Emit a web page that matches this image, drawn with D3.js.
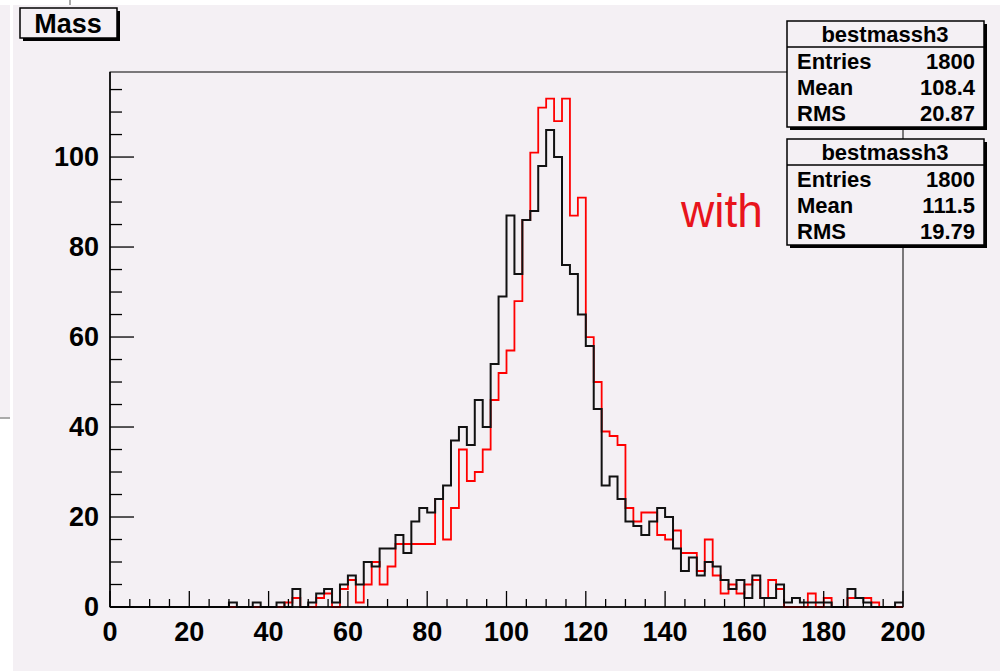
<!DOCTYPE html>
<html>
<head>
<meta charset="utf-8">
<script src="https://cdn.jsdelivr.net/npm/d3@7"></script>
<style>
  body { margin: 0; background: #fff; }
  svg { display: block; }
  text { font-family: "Liberation Sans", Arial, sans-serif; }
</style>
</head>
<body>
<script>
// histogram bestmassh3, 100 bins of width 2 from 0 to 200
var binWidth = 2;
var massBlack = [
  0, 0, 0, 0, 0, 0, 0, 0, 0, 0,
  0, 0, 0, 0, 0, 1, 0, 0, 1, 0,
  0, 1, 0, 4, 0, 1, 3, 4, 1, 5,
  7, 5, 10, 9, 13, 13, 16, 12, 19, 22,
  21, 24, 27, 37, 40, 36, 46, 40, 54, 69,
  87, 74, 86, 88, 98, 106, 100, 76, 74, 65,
  58, 44, 27, 29, 24, 19, 18, 16, 19, 22,
  20, 13, 8, 11, 7, 10, 9, 6, 4, 6,
  2, 7, 2, 2, 5, 1, 2, 1, 1, 1,
  1, 0, 0, 4, 2, 1, 0, 0, 0, 1
];
var massRed = [
  0, 0, 0, 0, 0, 0, 0, 0, 0, 0,
  0, 0, 0, 0, 0, 0, 0, 0, 0, 0,
  0, 0, 1, 2, 0, 0, 2, 3, 0, 4,
  6, 1, 5, 10, 5, 9, 14, 14, 14, 14,
  14, 24, 15, 22, 35, 28, 30, 35, 46, 52,
  57, 68, 86, 101, 111, 113, 108, 113, 87, 91,
  60, 50, 39, 38, 36, 22, 19, 21, 21, 16,
  15, 17, 12, 12, 8, 15, 7, 3, 5, 3,
  5, 6, 2, 6, 4, 0, 0, 0, 3, 0,
  2, 0, 0, 2, 2, 2, 1, 0, 0, 0
];
var xTicks = [0, 20, 40, 60, 80, 100, 120, 140, 160, 180, 200];
var yTicks = [0, 20, 40, 60, 80, 100];
var statsNames = ["Entries", "Mean", "RMS"];
var statsBlack = ["1800", "108.4", "20.87"];
var statsRed = ["1800", "111.5", "19.79"];

var W = 1000, H = 671;
var bg = '#f4f0f4';
var svg = d3.select('body').append('svg')
  .attr('width', W)
  .attr('height', H);

// canvas
svg.append('rect').attr('x', 13).attr('y', 5).attr('width', W - 13).attr('height', H - 5).attr('fill', bg);
svg.append('rect').attr('x', 0).attr('y', 5).attr('width', 10).attr('height', 412).attr('fill', bg);
svg.append('line').attr('x1', 0).attr('x2', 10).attr('y1', 418).attr('y2', 418)
  .attr('stroke', '#aaa').attr('stroke-width', 2);
svg.append('line').attr('x1', 70).attr('x2', 70).attr('y1', 0).attr('y2', 5)
  .attr('stroke', '#aaa').attr('stroke-width', 2);

var x = d3.scaleLinear().domain([0, 200]).range([110, 903]);
var y = d3.scaleLinear().domain([0, 118.9]).range([607, 72]);

// frame
svg.append('rect')
  .attr('x', x(0)).attr('y', y(118.9))
  .attr('width', x(200) - x(0)).attr('height', y(0) - y(118.9))
  .attr('fill', bg).attr('stroke', '#000').attr('stroke-width', 1);

// histograms
var step = d3.line()
  .x(function(d) { return x(d[0]); })
  .y(function(d) { return y(d[1]); })
  .curve(d3.curveStepAfter);
function pts(vals) {
  var p = vals.map(function(v, i) { return [i * binWidth, v]; });
  p.push([vals.length * binWidth, vals[vals.length - 1]]);
  return p;
}
svg.append('path').datum(pts(massRed)).attr('d', step)
  .attr('fill', 'none').attr('stroke', '#ff0000').attr('stroke-width', 1.8);
svg.append('path').datum(pts(massBlack)).attr('d', step)
  .attr('fill', 'none').attr('stroke', '#111').attr('stroke-width', 2);

// x axis
var ax = svg.append('g');
ax.append('line').attr('x1', x(0)).attr('x2', x(200)).attr('y1', y(0)).attr('y2', y(0))
  .attr('stroke', '#000').attr('stroke-width', 1.5);
d3.range(0, 201, 5).forEach(function(v) {
  var major = v % 20 == 0;
  ax.append('line')
    .attr('x1', x(v)).attr('x2', x(v))
    .attr('y1', y(0)).attr('y2', y(0) - (major ? 16 : 8))
    .attr('stroke', '#000').attr('stroke-width', 1.3);
});
ax.selectAll('text.xl').data(xTicks).enter().append('text')
  .attr('class', 'xl')
  .attr('x', function(d) { return x(d); })
  .attr('y', 641)
  .attr('text-anchor', 'middle')
  .attr('font-size', 27).attr('font-weight', 'bold')
  .text(function(d) { return d; });

// y axis
var ay = svg.append('g');
ay.append('line').attr('x1', x(0)).attr('x2', x(0)).attr('y1', y(0)).attr('y2', y(118.9))
  .attr('stroke', '#000').attr('stroke-width', 1.5);
d3.range(0, 116, 5).forEach(function(v) {
  var major = v % 20 == 0;
  ay.append('line')
    .attr('x1', x(0)).attr('x2', x(0) + (major ? 24 : 12))
    .attr('y1', y(v)).attr('y2', y(v))
    .attr('stroke', '#000').attr('stroke-width', 1.3);
});
ay.selectAll('text.yl').data(yTicks).enter().append('text')
  .attr('class', 'yl')
  .attr('x', 99)
  .attr('y', function(d) { return y(d) + 9; })
  .attr('text-anchor', 'end')
  .attr('font-size', 27).attr('font-weight', 'bold')
  .text(function(d) { return d; });

// title box
function shadowBox(x0, y0, w, h) {
  svg.append('rect').attr('x', x0 + 3).attr('y', y0 + 3).attr('width', w).attr('height', h).attr('fill', '#000');
  svg.append('rect').attr('x', x0).attr('y', y0).attr('width', w).attr('height', h)
    .attr('fill', bg).attr('stroke', '#000').attr('stroke-width', 1.5);
}
shadowBox(20, 8, 97, 30);
svg.append('text').attr('x', 68).attr('y', 33).attr('text-anchor', 'middle')
  .attr('font-size', 27).attr('font-weight', 'bold').text('Mass');

// stats boxes
function statsBox(y0, vals) {
  shadowBox(787, y0, 197, 106);
  svg.append('line').attr('x1', 787).attr('x2', 984).attr('y1', y0 + 26).attr('y2', y0 + 26)
    .attr('stroke', '#000').attr('stroke-width', 1.5);
  svg.append('text').attr('x', 885).attr('y', y0 + 21).attr('text-anchor', 'middle')
    .attr('font-size', 22).attr('font-weight', 'bold').text('bestmassh3');
  statsNames.forEach(function(n, i) {
    svg.append('text').attr('x', 797).attr('y', y0 + 48 + i * 26)
      .attr('font-size', 22).attr('font-weight', 'bold').text(n);
    svg.append('text').attr('x', 975).attr('y', y0 + 48 + i * 26)
      .attr('text-anchor', 'end')
      .attr('font-size', 22).attr('font-weight', 'bold').text(vals[i]);
  });
}
statsBox(21, statsBlack);
statsBox(139, statsRed);

svg.append('text').attr('x', 681).attr('y', 227)
  .attr('font-size', 46).attr('fill', '#e8141c').text('with');
</script>
</body>
</html>
